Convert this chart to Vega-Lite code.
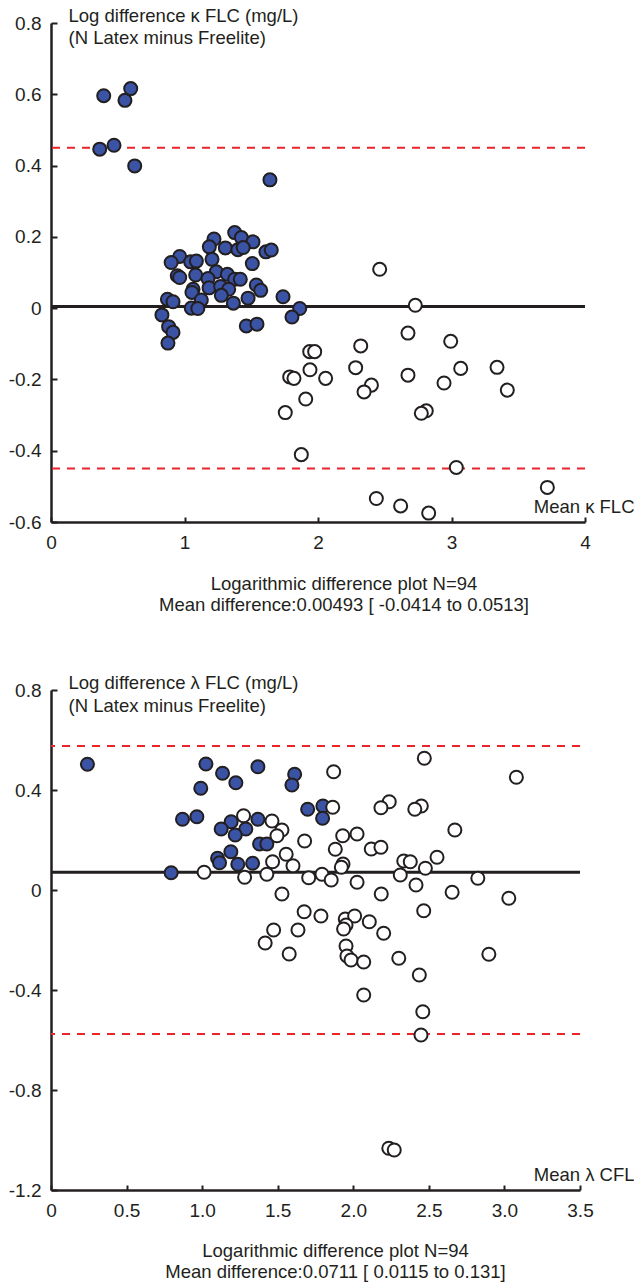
{
  "$schema": "https://vega.github.io/schema/vega-lite/v6.json",
  "padding": {"top": 6, "left": 8, "right": 0, "bottom": 0},
  "spacing": 58,
  "columns": 1,
  "align": "none",
  "config": {
    "view": {"stroke": null},
    "font": "Liberation Sans",
    "axis": {
      "domainColor": "#231f20", "domainWidth": 2.5,
      "tickColor": "#231f20", "tickWidth": 2,
      "labelFont": "Liberation Sans", "labelFontSize": 19, "labelColor": "#231f20",
      "titleFont": "Liberation Sans", "titleFontSize": 18.5, "titleFontWeight": "normal", "titleColor": "#231f20",
      "grid": false, "labelFlush": false
    },
    "title": {"font": "Liberation Sans", "fontSize": 18.5, "fontWeight": "normal", "color": "#231f20", "lineHeight": 21}
  },
  "concat": [
    {
      "width": 534, "height": 499,
      "title": {"text": ["Logarithmic difference plot N=94", "Mean difference:0.00493 [ -0.0414 to 0.0513]"], "orient": "bottom", "anchor": "middle", "dx": 26, "offset": 23},
      "layer": [
        {
          "data": {"values": [{"diff": 0.45}, {"diff": -0.45}]},
          "mark": {"type": "rule", "color": "#e8262a", "strokeWidth": 2, "strokeDash": [8, 7]},
          "encoding": {
            "y": {"field": "diff", "type": "quantitative", "scale": {"domain": [-0.6, 0.8], "nice": false, "zero": false},
              "axis": {"values": [-0.6, -0.4, -0.2, 0, 0.2, 0.4, 0.6, 0.8], "labelExpr": "'\u2009' + datum.value",
                "title": ["Log difference κ FLC (mg/L)", "(N Latex minus Freelite)"],
                "titleAngle": 0, "titleAlign": "left", "titleBaseline": "alphabetic", "titleX": 17, "titleY": -2, "titleLineHeight": 22.5,
                "tickSize": -6, "labelPadding": 16}}
          }
        },
        {
          "data": {"values": [{"diff": 0.00493}]},
          "mark": {"type": "rule", "color": "#231f20", "strokeWidth": 3},
          "encoding": {"y": {"field": "diff", "type": "quantitative"}}
        },
        {
          "data": {"values": [
            {"mean": 0.395, "diff": 0.596, "g": "blue"}, {"mean": 0.554, "diff": 0.583, "g": "blue"}, {"mean": 0.597, "diff": 0.616, "g": "blue"},
            {"mean": 0.365, "diff": 0.446, "g": "blue"}, {"mean": 0.472, "diff": 0.457, "g": "blue"}, {"mean": 0.627, "diff": 0.399, "g": "blue"},
            {"mean": 1.64, "diff": 0.36, "g": "blue"}, {"mean": 1.376, "diff": 0.212, "g": "blue"}, {"mean": 1.221, "diff": 0.194, "g": "blue"},
            {"mean": 1.186, "diff": 0.172, "g": "blue"}, {"mean": 1.306, "diff": 0.169, "g": "blue"}, {"mean": 1.426, "diff": 0.198, "g": "blue"},
            {"mean": 1.513, "diff": 0.186, "g": "blue"}, {"mean": 1.40, "diff": 0.164, "g": "blue"}, {"mean": 1.44, "diff": 0.170, "g": "blue"},
            {"mean": 1.61, "diff": 0.158, "g": "blue"}, {"mean": 1.65, "diff": 0.163, "g": "blue"}, {"mean": 1.508, "diff": 0.125, "g": "blue"},
            {"mean": 1.206, "diff": 0.137, "g": "blue"}, {"mean": 0.964, "diff": 0.145, "g": "blue"}, {"mean": 0.90, "diff": 0.128, "g": "blue"},
            {"mean": 1.046, "diff": 0.13, "g": "blue"}, {"mean": 1.089, "diff": 0.132, "g": "blue"}, {"mean": 0.946, "diff": 0.091, "g": "blue"},
            {"mean": 0.964, "diff": 0.086, "g": "blue"}, {"mean": 1.084, "diff": 0.093, "g": "blue"}, {"mean": 1.238, "diff": 0.102, "g": "blue"},
            {"mean": 1.321, "diff": 0.095, "g": "blue"}, {"mean": 1.176, "diff": 0.083, "g": "blue"}, {"mean": 1.376, "diff": 0.081, "g": "blue"},
            {"mean": 1.418, "diff": 0.081, "g": "blue"}, {"mean": 1.064, "diff": 0.053, "g": "blue"}, {"mean": 1.056, "diff": 0.044, "g": "blue"},
            {"mean": 1.184, "diff": 0.057, "g": "blue"}, {"mean": 1.271, "diff": 0.061, "g": "blue"}, {"mean": 1.331, "diff": 0.053, "g": "blue"},
            {"mean": 1.276, "diff": 0.036, "g": "blue"}, {"mean": 1.126, "diff": 0.023, "g": "blue"}, {"mean": 1.538, "diff": 0.065, "g": "blue"},
            {"mean": 1.571, "diff": 0.050, "g": "blue"}, {"mean": 1.476, "diff": 0.028, "g": "blue"}, {"mean": 1.366, "diff": 0.014, "g": "blue"},
            {"mean": 1.738, "diff": 0.032, "g": "blue"}, {"mean": 0.872, "diff": 0.025, "g": "blue"}, {"mean": 0.914, "diff": 0.018, "g": "blue"},
            {"mean": 1.051, "diff": 0.0, "g": "blue"}, {"mean": 1.10, "diff": -0.001, "g": "blue"}, {"mean": 0.831, "diff": -0.019, "g": "blue"},
            {"mean": 1.863, "diff": -0.001, "g": "blue"}, {"mean": 1.805, "diff": -0.025, "g": "blue"}, {"mean": 0.881, "diff": -0.052, "g": "blue"},
            {"mean": 0.914, "diff": -0.068, "g": "blue"}, {"mean": 0.876, "diff": -0.098, "g": "blue"}, {"mean": 1.463, "diff": -0.05, "g": "blue"},
            {"mean": 1.543, "diff": -0.045, "g": "blue"},
            {"mean": 2.462, "diff": 0.109, "g": "open"}, {"mean": 2.729, "diff": 0.008, "g": "open"}, {"mean": 2.674, "diff": -0.070, "g": "open"},
            {"mean": 2.994, "diff": -0.093, "g": "open"}, {"mean": 2.32, "diff": -0.106, "g": "open"}, {"mean": 1.938, "diff": -0.122, "g": "open"},
            {"mean": 1.975, "diff": -0.122, "g": "open"}, {"mean": 1.94, "diff": -0.173, "g": "open"}, {"mean": 2.282, "diff": -0.167, "g": "open"},
            {"mean": 2.674, "diff": -0.188, "g": "open"}, {"mean": 3.069, "diff": -0.169, "g": "open"}, {"mean": 3.341, "diff": -0.166, "g": "open"},
            {"mean": 1.788, "diff": -0.193, "g": "open"}, {"mean": 1.82, "diff": -0.197, "g": "open"}, {"mean": 2.057, "diff": -0.197, "g": "open"},
            {"mean": 2.40, "diff": -0.216, "g": "open"}, {"mean": 2.345, "diff": -0.235, "g": "open"}, {"mean": 2.944, "diff": -0.210, "g": "open"},
            {"mean": 3.418, "diff": -0.230, "g": "open"}, {"mean": 1.908, "diff": -0.255, "g": "open"}, {"mean": 1.755, "diff": -0.293, "g": "open"},
            {"mean": 2.811, "diff": -0.288, "g": "open"}, {"mean": 2.774, "diff": -0.295, "g": "open"}, {"mean": 1.875, "diff": -0.411, "g": "open"},
            {"mean": 3.036, "diff": -0.447, "g": "open"}, {"mean": 3.718, "diff": -0.503, "g": "open"}, {"mean": 2.437, "diff": -0.534, "g": "open"},
            {"mean": 2.619, "diff": -0.555, "g": "open"}, {"mean": 2.829, "diff": -0.575, "g": "open"}
          ]},
          "mark": {"type": "point", "shape": "circle", "filled": true, "size": 170, "stroke": "#231f20", "strokeWidth": 2, "opacity": 1},
          "encoding": {
            "x": {"field": "mean", "type": "quantitative", "scale": {"domain": [0, 4], "nice": false, "zero": false},
              "axis": {"values": [0, 1, 2, 3, 4], "title": "Mean κ FLC", "titleX": 583, "titleY": -10, "titleAlign": "right", "titleBaseline": "alphabetic",
                "tickSize": -5, "labelPadding": 16}},
            "y": {"field": "diff", "type": "quantitative"},
            "fill": {"field": "g", "type": "nominal", "scale": {"domain": ["blue", "open"], "range": ["#3a53a4", "#ffffff"]}, "legend": null}
          }
        }
      ]
    },
    {
      "width": 529, "height": 500,
      "title": {"text": ["Logarithmic difference plot N=94", "Mean difference:0.0711 [ 0.0115 to 0.131]"], "orient": "bottom", "anchor": "middle", "dx": 20, "offset": 22},
      "layer": [
        {
          "data": {"values": [{"diff": 0.576}, {"diff": -0.576}]},
          "mark": {"type": "rule", "color": "#e8262a", "strokeWidth": 2, "strokeDash": [8, 7]},
          "encoding": {
            "y": {"field": "diff", "type": "quantitative", "scale": {"domain": [-1.2, 0.8], "nice": false, "zero": false},
              "axis": {"values": [-1.2, -0.8, -0.4, 0, 0.4, 0.8], "labelExpr": "'' + datum.value",
                "title": ["Log difference λ FLC (mg/L)", "(N Latex minus Freelite)"],
                "titleAngle": 0, "titleAlign": "left", "titleBaseline": "alphabetic", "titleX": 17, "titleY": -2, "titleLineHeight": 23.5,
                "tickSize": -6, "labelPadding": 16}}
          }
        },
        {
          "data": {"values": [{"diff": 0.0711}]},
          "mark": {"type": "rule", "color": "#231f20", "strokeWidth": 3},
          "encoding": {"y": {"field": "diff", "type": "quantitative"}}
        },
        {
          "data": {"values": [
            {"mean": 0.241, "diff": 0.503, "g": "blue"}, {"mean": 1.025, "diff": 0.504, "g": "blue"}, {"mean": 1.135, "diff": 0.467, "g": "blue"},
            {"mean": 1.223, "diff": 0.429, "g": "blue"}, {"mean": 0.991, "diff": 0.407, "g": "blue"}, {"mean": 1.369, "diff": 0.493, "g": "blue"},
            {"mean": 1.612, "diff": 0.463, "g": "blue"}, {"mean": 1.594, "diff": 0.420, "g": "blue"}, {"mean": 0.870, "diff": 0.283, "g": "blue"},
            {"mean": 0.965, "diff": 0.293, "g": "blue"}, {"mean": 1.192, "diff": 0.273, "g": "blue"}, {"mean": 1.126, "diff": 0.244, "g": "blue"},
            {"mean": 1.289, "diff": 0.244, "g": "blue"}, {"mean": 1.219, "diff": 0.220, "g": "blue"}, {"mean": 1.369, "diff": 0.283, "g": "blue"},
            {"mean": 1.698, "diff": 0.323, "g": "blue"}, {"mean": 1.799, "diff": 0.336, "g": "blue"}, {"mean": 1.797, "diff": 0.287, "g": "blue"},
            {"mean": 1.380, "diff": 0.184, "g": "blue"}, {"mean": 1.428, "diff": 0.184, "g": "blue"}, {"mean": 1.190, "diff": 0.153, "g": "blue"},
            {"mean": 1.102, "diff": 0.127, "g": "blue"}, {"mean": 1.115, "diff": 0.109, "g": "blue"}, {"mean": 1.236, "diff": 0.103, "g": "blue"},
            {"mean": 1.334, "diff": 0.107, "g": "blue"}, {"mean": 0.795, "diff": 0.069, "g": "blue"},
            {"mean": 1.870, "diff": 0.473, "g": "open"}, {"mean": 1.864, "diff": 0.331, "g": "open"}, {"mean": 1.274, "diff": 0.297, "g": "open"},
            {"mean": 1.462, "diff": 0.276, "g": "open"}, {"mean": 1.528, "diff": 0.240, "g": "open"}, {"mean": 1.495, "diff": 0.217, "g": "open"},
            {"mean": 1.678, "diff": 0.196, "g": "open"}, {"mean": 1.930, "diff": 0.217, "g": "open"}, {"mean": 1.881, "diff": 0.163, "g": "open"},
            {"mean": 1.556, "diff": 0.143, "g": "open"}, {"mean": 1.466, "diff": 0.113, "g": "open"}, {"mean": 1.601, "diff": 0.097, "g": "open"},
            {"mean": 1.013, "diff": 0.071, "g": "open"}, {"mean": 1.281, "diff": 0.051, "g": "open"}, {"mean": 1.428, "diff": 0.063, "g": "open"},
            {"mean": 1.705, "diff": 0.049, "g": "open"}, {"mean": 1.793, "diff": 0.063, "g": "open"}, {"mean": 1.854, "diff": 0.040, "g": "open"},
            {"mean": 1.528, "diff": -0.016, "g": "open"}, {"mean": 1.675, "diff": -0.087, "g": "open"}, {"mean": 1.786, "diff": -0.104, "g": "open"},
            {"mean": 2.470, "diff": 0.527, "g": "open"}, {"mean": 2.238, "diff": 0.353, "g": "open"}, {"mean": 2.183, "diff": 0.329, "g": "open"},
            {"mean": 2.450, "diff": 0.336, "g": "open"}, {"mean": 2.407, "diff": 0.323, "g": "open"}, {"mean": 2.672, "diff": 0.240, "g": "open"},
            {"mean": 2.025, "diff": 0.224, "g": "open"}, {"mean": 2.119, "diff": 0.164, "g": "open"}, {"mean": 2.183, "diff": 0.171, "g": "open"},
            {"mean": 2.554, "diff": 0.131, "g": "open"}, {"mean": 2.334, "diff": 0.116, "g": "open"}, {"mean": 2.377, "diff": 0.113, "g": "open"},
            {"mean": 1.932, "diff": 0.104, "g": "open"}, {"mean": 1.921, "diff": 0.091, "g": "open"}, {"mean": 2.477, "diff": 0.087, "g": "open"},
            {"mean": 2.824, "diff": 0.047, "g": "open"}, {"mean": 2.311, "diff": 0.060, "g": "open"}, {"mean": 2.025, "diff": 0.031, "g": "open"},
            {"mean": 2.415, "diff": 0.020, "g": "open"}, {"mean": 2.185, "diff": -0.016, "g": "open"}, {"mean": 2.654, "diff": -0.009, "g": "open"},
            {"mean": 2.466, "diff": -0.083, "g": "open"}, {"mean": 1.473, "diff": -0.160, "g": "open"}, {"mean": 1.634, "diff": -0.160, "g": "open"},
            {"mean": 1.947, "diff": -0.116, "g": "open"}, {"mean": 2.009, "diff": -0.104, "g": "open"}, {"mean": 2.106, "diff": -0.127, "g": "open"},
            {"mean": 1.952, "diff": -0.140, "g": "open"}, {"mean": 1.936, "diff": -0.156, "g": "open"}, {"mean": 2.201, "diff": -0.173, "g": "open"},
            {"mean": 1.417, "diff": -0.212, "g": "open"}, {"mean": 1.576, "diff": -0.256, "g": "open"}, {"mean": 1.952, "diff": -0.224, "g": "open"},
            {"mean": 1.958, "diff": -0.264, "g": "open"}, {"mean": 1.985, "diff": -0.280, "g": "open"}, {"mean": 2.069, "diff": -0.288, "g": "open"},
            {"mean": 2.301, "diff": -0.273, "g": "open"}, {"mean": 2.897, "diff": -0.257, "g": "open"}, {"mean": 2.437, "diff": -0.340, "g": "open"},
            {"mean": 2.069, "diff": -0.420, "g": "open"}, {"mean": 2.460, "diff": -0.487, "g": "open"}, {"mean": 2.448, "diff": -0.580, "g": "open"},
            {"mean": 3.079, "diff": 0.451, "g": "open"}, {"mean": 3.029, "diff": -0.033, "g": "open"}, {"mean": 2.235, "diff": -1.033, "g": "open"},
            {"mean": 2.271, "diff": -1.040, "g": "open"}
          ]},
          "mark": {"type": "point", "shape": "circle", "filled": true, "size": 170, "stroke": "#231f20", "strokeWidth": 2, "opacity": 1},
          "encoding": {
            "x": {"field": "mean", "type": "quantitative", "scale": {"domain": [0, 3.5], "nice": false, "zero": false},
              "axis": {"values": [0, 0.5, 1, 1.5, 2, 2.5, 3, 3.5], "labelExpr": "datum.value == 0 ? '0' : format(datum.value, '.1f')",
                "title": "Mean λ CFL", "titleX": 583, "titleY": -10, "titleAlign": "right", "titleBaseline": "alphabetic",
                "tickSize": -5, "labelPadding": 16}},
            "y": {"field": "diff", "type": "quantitative"},
            "fill": {"field": "g", "type": "nominal", "scale": {"domain": ["blue", "open"], "range": ["#3a53a4", "#ffffff"]}, "legend": null}
          }
        }
      ]
    }
  ]
}
